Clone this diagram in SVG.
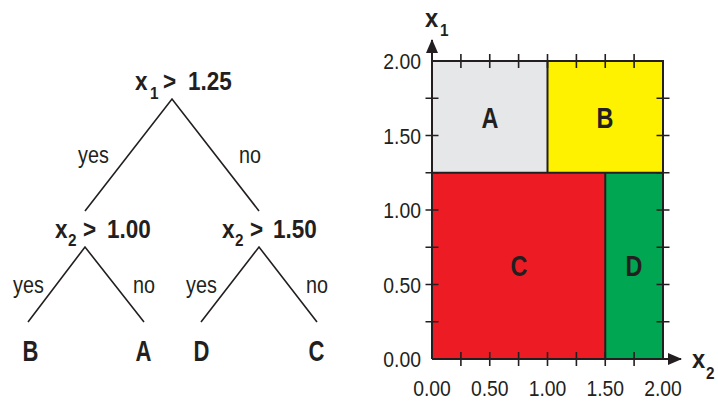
<svg xmlns="http://www.w3.org/2000/svg" width="718" height="408" viewBox="0 0 718 408">
<defs>
<style>
text{font-family:"Liberation Sans",Arial,Helvetica,sans-serif;fill:#231f20}
.b{font-weight:bold}
.node{font-size:25px}
.sub{font-size:17px}
.edge{font-size:23px}
.leaf{font-size:29px;text-anchor:middle}
.reg{font-size:30px;text-anchor:middle}
.tick{font-size:21.5px}
.conn{stroke:#231f20;stroke-width:1.6;fill:none}
.frame{stroke:#231f20;stroke-width:2;fill:none}
.tk{stroke:#231f20;stroke-width:1.6}
</style>
<marker id="arr" viewBox="0 0 14 12" refX="13" refY="6" markerWidth="14" markerHeight="12" markerUnits="userSpaceOnUse" orient="auto">
<path d="M0,0 L14,6 L0,12 Z" fill="#231f20"/>
</marker>
</defs>
<rect width="718" height="408" fill="#ffffff"/>

<g id="connectors">
<path class="conn" d="M85,211 L172,99 L259,211"/>
<path class="conn" d="M28,322 L85,247 L144,322"/>
<path class="conn" d="M201,322 L259,247 L317,322"/>
<text class="edge" transform="translate(78,163) scale(0.86,1)">yes</text>
<text class="edge" transform="translate(239,163) scale(0.86,1)">no</text>
<text class="edge" transform="translate(13,293) scale(0.86,1)">yes</text>
<text class="edge" transform="translate(133,293) scale(0.86,1)">no</text>
<text class="edge" transform="translate(186,293) scale(0.86,1)">yes</text>
<text class="edge" transform="translate(306,293) scale(0.86,1)">no</text>
</g>

<g id="root">
<text class="b node" transform="translate(135,90) scale(0.9,1)">x</text>
<text class="b sub" transform="translate(150,99) scale(0.9,1)">1</text>
<text class="b node" transform="translate(163,90) scale(0.9,1)">&gt;</text>
<text class="b node" transform="translate(188,90) scale(0.9,1)">1.25</text>
</g>
<g id="split-x2-100">
<text class="b node" transform="translate(55,238) scale(0.9,1)">x</text>
<text class="b sub" transform="translate(68,246) scale(0.9,1)">2</text>
<text class="b node" transform="translate(83,238) scale(0.9,1)">&gt;</text>
<text class="b node" transform="translate(107,238) scale(0.9,1)">1.00</text>
</g>
<g id="split-x2-150">
<text class="b node" transform="translate(222,238) scale(0.9,1)">x</text>
<text class="b sub" transform="translate(235,246) scale(0.9,1)">2</text>
<text class="b node" transform="translate(250,238) scale(0.9,1)">&gt;</text>
<text class="b node" transform="translate(273,238) scale(0.9,1)">1.50</text>
</g>
<g id="leaf-B"><text class="b leaf" transform="translate(30.5,361) scale(0.76,1)">B</text></g>
<g id="leaf-A"><text class="b leaf" transform="translate(143.5,361) scale(0.76,1)">A</text></g>
<g id="leaf-D"><text class="b leaf" transform="translate(201.5,361) scale(0.76,1)">D</text></g>
<g id="leaf-C"><text class="b leaf" transform="translate(316.5,361) scale(0.76,1)">C</text></g>

<g id="plot">
<rect x="432" y="61" width="115.5" height="111.75" fill="#e6e7e8"/>
<rect x="547.5" y="61" width="115.5" height="111.75" fill="#fff200"/>
<rect x="432" y="172.75" width="173.25" height="186.25" fill="#ed1c24"/>
<rect x="605.25" y="172.75" width="57.75" height="186.25" fill="#00a651"/>
<path class="frame" d="M432,61 H663 V359 M432,172.75 H663 M547.5,61 V172.75 M605.25,172.75 V359"/>
<line class="frame" x1="432" y1="359" x2="432" y2="40" marker-end="url(#arr)"/>
<line class="frame" x1="432" y1="359" x2="681" y2="359" marker-end="url(#arr)"/>
<path class="tk" d="M460.9,54 V68 M489.75,54 V68 M518.6,54 V68 M547.5,54 V68 M576.4,54 V68 M605.25,54 V68 M634.1,54 V68
M460.9,352 V366 M489.75,352 V366 M518.6,352 V366 M547.5,352 V366 M576.4,352 V366 M605.25,352 V366 M634.1,352 V366
M425.5,98.25 H438.5 M425.5,135.5 H438.5 M425.5,172.75 H438.5 M425.5,210 H438.5 M425.5,247.25 H438.5 M425.5,284.5 H438.5 M425.5,321.75 H438.5
M656.5,98.25 H669.5 M656.5,135.5 H669.5 M656.5,172.75 H669.5 M656.5,210 H669.5 M656.5,247.25 H669.5 M656.5,284.5 H669.5 M656.5,321.75 H669.5"/>
<text class="b reg" transform="translate(490,128) scale(0.78,1)">A</text>
<text class="b reg" transform="translate(605,128) scale(0.78,1)">B</text>
<text class="b reg" transform="translate(519,276) scale(0.78,1)">C</text>
<text class="b reg" transform="translate(634,276) scale(0.78,1)">D</text>
<g text-anchor="end">
<text class="tick" transform="translate(421,69) scale(0.9,1)">2.00</text>
<text class="tick" transform="translate(421,143.5) scale(0.9,1)">1.50</text>
<text class="tick" transform="translate(421,218) scale(0.9,1)">1.00</text>
<text class="tick" transform="translate(421,292.5) scale(0.9,1)">0.50</text>
<text class="tick" transform="translate(421,367) scale(0.9,1)">0.00</text>
</g>
<g text-anchor="middle">
<text class="tick" transform="translate(432,395.5) scale(0.9,1)">0.00</text>
<text class="tick" transform="translate(489.75,395.5) scale(0.9,1)">0.50</text>
<text class="tick" transform="translate(547.5,395.5) scale(0.9,1)">1.00</text>
<text class="tick" transform="translate(605.25,395.5) scale(0.9,1)">1.50</text>
<text class="tick" transform="translate(663,395.5) scale(0.9,1)">2.00</text>
</g>
<text class="b node" transform="translate(425,27) scale(0.95,1)">x</text>
<text class="b sub" transform="translate(440,36) scale(0.9,1)">1</text>
<text class="b node" transform="translate(692,368) scale(0.95,1)">x</text>
<text class="b sub" transform="translate(706,379) scale(0.9,1)">2</text>
</g>
</svg>
